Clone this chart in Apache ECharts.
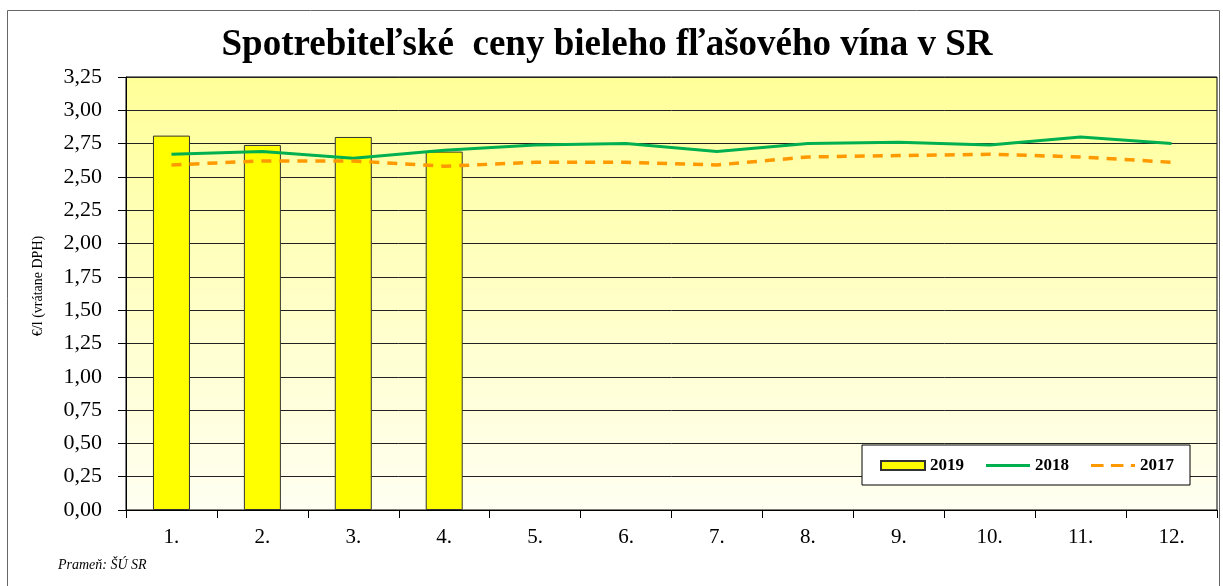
<!DOCTYPE html>
<html>
<head>
<meta charset="utf-8">
<script src="https://cdn.jsdelivr.net/npm/echarts@6/dist/echarts.min.js"></script>
<style>
  html, body { margin: 0; padding: 0; background: #fff; }
  #eChart { width: 1223px; height: 586px; }
</style>
</head>
<body>
<div id="eChart"></div>
<script>
// months
var months = ['1.', '2.', '3.', '4.', '5.', '6.', '7.', '8.', '9.', '10.', '11.', '12.'];
// prices in EUR per litre
var prices2019 = [2.81, 2.74, 2.80, 2.69];
var prices2018 = [2.67, 2.69, 2.64, 2.70, 2.74, 2.75, 2.69, 2.75, 2.76, 2.74, 2.80, 2.75];
var prices2017 = [2.59, 2.62, 2.62, 2.58, 2.61, 2.61, 2.59, 2.65, 2.66, 2.67, 2.65, 2.61];

var serif = '"Liberation Serif", "Times New Roman", serif';

var option = {
    animation: false,
    backgroundColor: '#fff',
    title: {
        text: 'Spotrebiteľské  ceny bieleho fľašového vína v SR',
        left: 602,
        textAlign: 'center',
        top: 22,
        textStyle: { fontFamily: serif, fontSize: 37, fontWeight: 'bold', color: '#000' }
    },
    graphic: [
        {
            type: 'rect',
            shape: { x: 7.5, y: 10.5, width: 1212, height: 590 },
            style: { fill: null, stroke: '#666', lineWidth: 1 },
            silent: true
        },
        {
            type: 'text',
            x: 38,
            y: 286,
            rotation: Math.PI / 2,
            style: {
                text: '€/l (vrátane DPH)', font: '14px ' + serif, fill: '#000',
                align: 'center', verticalAlign: 'middle'
            }
        },
        {
            type: 'text',
            left: 58,
            top: 558,
            style: { text: 'Prameň: ŠÚ SR', font: 'italic 14px ' + serif, fill: '#000' }
        }
    ],
    legend: {
        right: 33,
        top: 445,
        padding: [12, 16, 11, 18],
        itemGap: 22,
        itemWidth: 44,
        itemHeight: 9,
        backgroundColor: '#fff',
        borderColor: '#000',
        borderWidth: 1,
        textStyle: { fontFamily: serif, fontSize: 17, fontWeight: 'bold', color: '#000' },
        data: [
            { name: '2019', icon: 'rect' },
            { name: '2018', icon: 'path://M0,3h46v3h-46z' },
            { name: '2017', icon: 'path://M0,3h12v3h-12zM19,3h12v3h-12zM38,3h4v3h-4z' }
        ]
    },
    grid: {
        left: 126,
        right: 6,
        top: 77,
        bottom: 76,
        show: true,
        borderColor: '#000',
        borderWidth: 1,
        backgroundColor: new echarts.graphic.LinearGradient(0, 0, 0, 1, [
            { offset: 0, color: '#FFFF99' },
            { offset: 1, color: '#FFFFF2' }
        ])
    },
    xAxis: {
        type: 'category',
        data: months,
        axisLine: { lineStyle: { color: '#000', width: 1 } },
        axisTick: { show: true, length: 8, lineStyle: { color: '#000' } },
        axisLabel: { fontFamily: serif, fontSize: 21, color: '#000', margin: 17 }
    },
    yAxis: {
        type: 'value',
        min: 0,
        max: 3.25,
        interval: 0.25,
        axisLine: { show: true, lineStyle: { color: '#000' } },
        axisTick: { show: true, length: 8, lineStyle: { color: '#000' } },
        splitLine: { lineStyle: { color: '#222', width: 1 } },
        axisLabel: {
            fontFamily: serif, fontSize: 22, color: '#000', margin: 24,
            formatter: function (v) { return v.toFixed(2).replace('.', ','); }
        }
    },
    series: [
        {
            name: '2019',
            type: 'bar',
            data: prices2019,
            barWidth: 37,
            itemStyle: { color: '#FFFF00', borderColor: '#333', borderWidth: 1 }
        },
        {
            name: '2018',
            type: 'line',
            data: prices2018,
            symbol: 'none',
            z: 3,
            lineStyle: { color: '#00B050', width: 3 },
            itemStyle: { color: '#00B050', borderColor: '#00B050' }
        },
        {
            name: '2017',
            type: 'line',
            data: prices2017,
            symbol: 'none',
            z: 3,
            lineStyle: { color: '#FF9900', width: 3.5, type: [10, 8] },
            itemStyle: { color: '#FF9900', borderColor: '#FF9900' }
        }
    ]
};

var chart = echarts.init(document.getElementById('eChart'));
chart.setOption(option);
</script>
</body>
</html>
